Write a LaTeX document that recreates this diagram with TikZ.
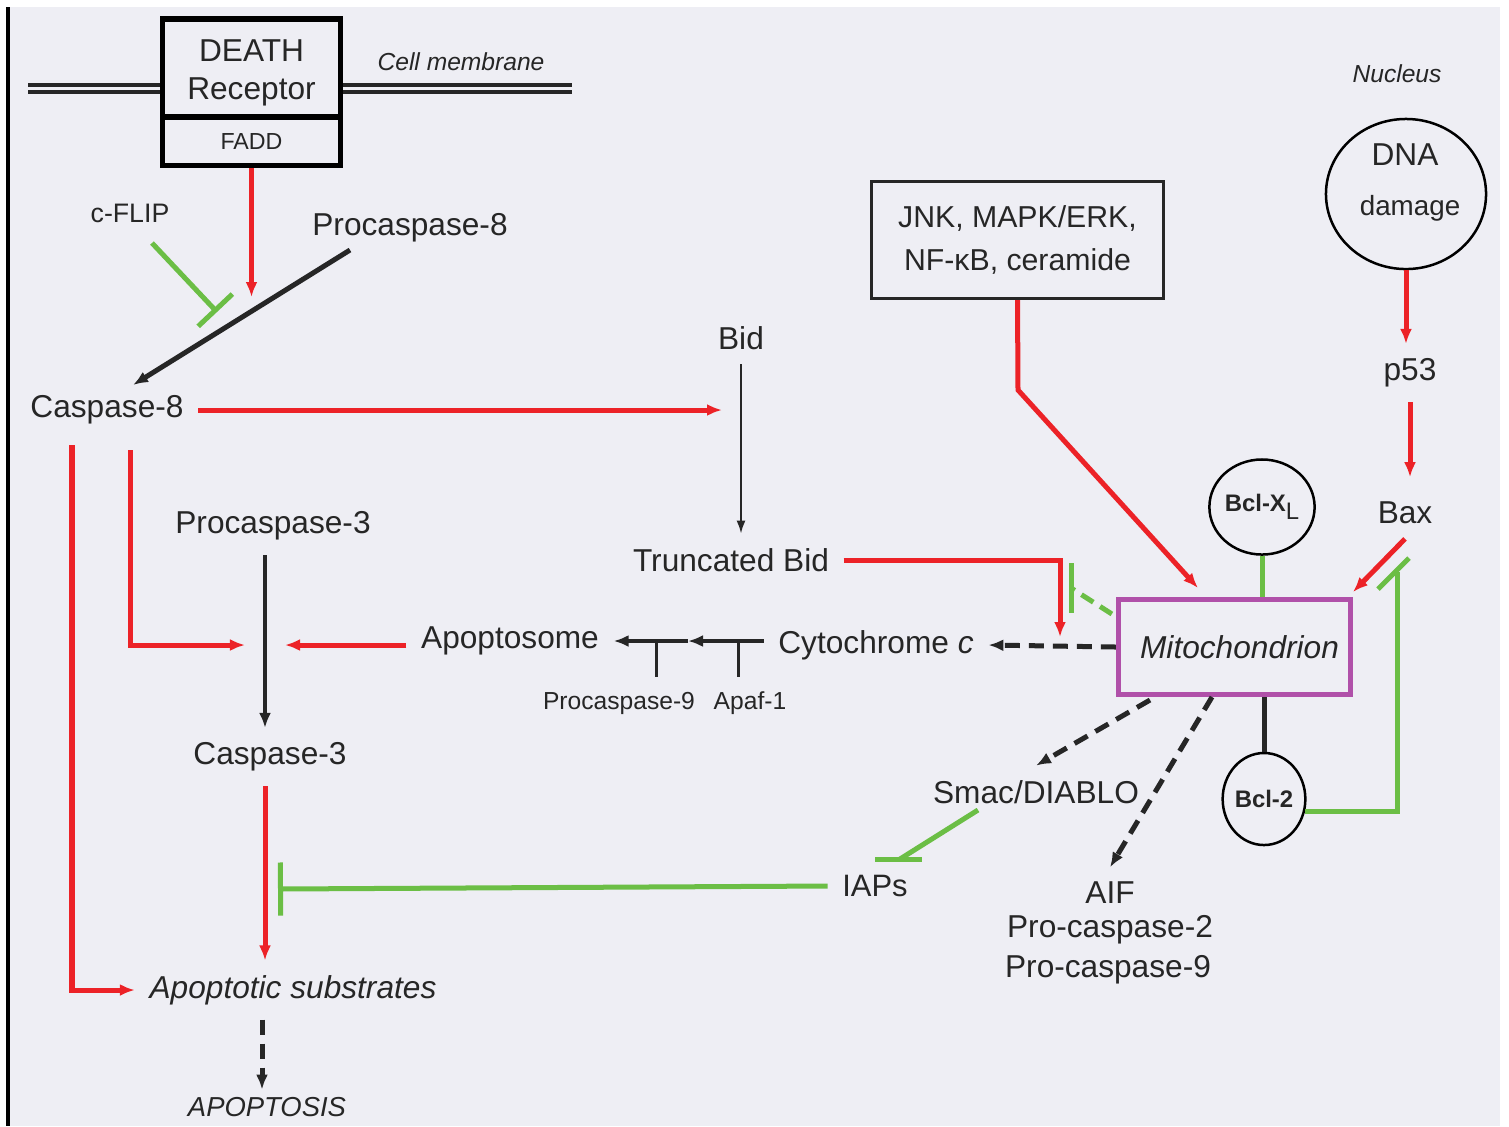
\documentclass[tikz,border=0pt]{standalone}
\usepackage{fontspec}
\setmainfont{Liberation Sans}
\usetikzlibrary{arrows.meta,shapes.geometric,calc}

\definecolor{actred}{HTML}{EC2227}
\definecolor{inhgreen}{HTML}{6BBE45}
\definecolor{mitopurple}{HTML}{B050A9}
\definecolor{panelbg}{HTML}{EEEEF4}
\definecolor{ink}{HTML}{262626}

\begin{document}
\begin{tikzpicture}[x=0.01cm,y=-0.01cm,
  lbl/.style={text=ink,inner sep=4pt,font=\fontsize{9}{11}\selectfont},
  lblsmall/.style={lbl,font=\fontsize{7}{8.5}\selectfont},
  lblnote/.style={lbl,font=\fontsize{7}{8.5}\selectfont\itshape},
  box/.style={draw=black,line width=0.55mm,minimum width=1.78cm,inner sep=0pt,text=ink},
  disc/.style={draw=black,ellipse,line width=0.25mm,inner sep=0pt,text=ink},
  membrane/.style={draw=ink,line width=0.38mm,double=panelbg,double distance=0.3mm},
  act/.style={draw=actred,line width=0.5mm,-{Latex[length=1.5mm,width=1.2mm]}},
  conv/.style={draw=ink,line width=0.45mm,-{Latex[length=1.5mm,width=1.2mm]}},
  thinconv/.style={draw=ink,line width=0.2mm,-{Latex[length=1.3mm,width=0.9mm]}},
  rel/.style={draw=ink,line width=0.5mm,dash pattern=on 1.5mm off 0.9mm,-{Latex[length=1.5mm,width=1.2mm]}},
  inh/.style={draw=inhgreen,line width=0.5mm}]
\useasboundingbox (0,0) rectangle (1509,1126);
\fill[panelbg] (8,7) rectangle (1500,1126);
\draw[black,line width=0.3mm] (8,7) -- (8,1126);

% receptor at the membrane
\node[box,minimum height=0.975cm] (receptor) at (251.5,68) {};
\node[lbl,align=center,inner sep=0pt] (receptorlbl) at (251.5,73) {DEATH\\Receptor};
\node[box,minimum height=0.485cm,font=\fontsize{6.6}{8}\selectfont] (fadd) at (251.5,141) {FADD};
\coordinate (memL) at (28,88.5);
\coordinate (memR) at (572,88.5);
\draw[membrane] (memL) -- (memL -| receptor.west);
\draw[membrane] (memR -| receptor.east) -- (memR);
\node[lblnote] (membranelbl) at (461,62) {Cell membrane};

% extrinsic branch
\node[lbl,font=\fontsize{7.6}{9}\selectfont] (cflip) at (130,213) {c-FLIP};
\node[lbl] (pro8) at (410,228) {Procaspase-8};
\node[lbl] (casp8) at (107,410) {Caspase-8};
\coordinate (pro8tail) at (350,250);
\coordinate (casp8head) at (133,385);
\coordinate (cut8) at (252,297);
\coordinate (flipfrom) at (152,243);
\coordinate (flipbar) at (217,312);
\draw[conv,line width=0.5mm] (pro8tail) -- (casp8head);
\draw[act] (fadd.south) -- (fadd.south |- cut8);
\draw[inh,-{Bar[width=4.7mm]}] (flipfrom) -- (flipbar);

% Bid
\node[lbl] (bid) at (741,338) {Bid};
\node[lbl] (tbid) at (731,560) {Truncated Bid};
\coordinate (bidjoin) at (722,410);
\coordinate (tbidhead) at (1060,637);
\draw[act] (casp8.east) -- (bidjoin);
\draw[thinconv] (bid.south) -- (bid.south |- tbid.north);
\draw[act] (tbid.east) -| (tbidhead);

% stress signals
\node[draw=ink,line width=0.3mm,minimum width=2.92cm,minimum height=1.17cm,align=center,text=ink,
  font=\fontsize{8.6}{12.2}\selectfont] (jnk) at (1017.5,240) {JNK, MAPK/ERK,\\NF-κB, ceramide};
\coordinate (jnkbend) at (1018,390);
\coordinate (jnkhead) at (1198,588);

% nucleus
\node[lblnote] (nucleus) at (1397,74) {Nucleus};
\node[disc,minimum width=1.6cm,minimum height=1.5cm] (dna) at (1406,194) {};
\node[lbl] (dnatxt) at (1405,155) {DNA};
\node[lbl,font=\fontsize{7.9}{9}\selectfont] (damage) at (1410,208) {damage};
\node[lbl] (p53) at (1410,373) {p53};
\node[lbl] (bax) at (1405,513) {Bax};
\draw[act] (dna.south) -- (dna.south |- p53.north);
\draw[act,shorten >=1mm] (p53.south) -- (p53.south |- bax.north);

% mitochondrion
\node[draw=mitopurple,line width=0.5mm,minimum width=2.22cm,minimum height=0.95cm,text=ink,
  font=\fontsize{9}{11}\selectfont\itshape] (mito) at (1234.5,647) {\hspace*{0.1cm}Mitochondrion};
\node[disc,minimum width=0.85cm,minimum height=0.95cm,font=\fontsize{6.8}{8}\selectfont\bfseries] (bclxl) at (1262,507)
  {Bcl-X\raisebox{-0.35em}{\mdseries L}};
\node[disc,minimum width=0.82cm,minimum height=0.92cm,font=\fontsize{6.8}{8}\selectfont\bfseries] (bcl2) at (1264,799) {Bcl-2};
\coordinate (baxhead) at (1353,592);
\coordinate (baxbar) at (1397,572);
\coordinate (bxlbar) at (1071,588);
\draw[act] (jnk.south) -- (jnkbend) -- (jnkhead);
\draw[act] (bax.south) -- (baxhead);
\draw[inh] (bclxl.south) -- (bclxl.south |- mito.north);
\draw[ink,line width=0.5mm] (bcl2.north |- mito.south) -- (bcl2.north);
\draw[inh] (bcl2.-17) -| (baxbar);
\draw[inh] ($(baxbar)+(-19,17)$) -- ($(baxbar)+(12,-14)$);
\draw[inh,dash pattern=on 1.4mm off 0.8mm] ($(mito.north west)+(-4,17)$) -- (bxlbar);
\draw[inh] ($(bxlbar)+(0,-25)$) -- ($(bxlbar)+(0,25)$);

% cytochrome c and apoptosome
\node[lbl] (cytc) at (876,645) {Cytochrome \textit{c}};
\node[lbl] (apopt) at (510,641) {Apoptosome};
\node[lblsmall] (pro9) at (619,703) {Procaspase-9};
\node[lblsmall] (apaf) at (750,703) {Apaf-1};
\coordinate (apafjoin) at (738,641);
\coordinate (pro9join) at (656,641);
\coordinate (midjoin) at (688,641);
\draw[rel] (mito.west) -- (cytc.east);
\draw[conv,line width=0.4mm] (cytc.west |- apafjoin) -- (midjoin);
\draw[conv,line width=0.4mm] (midjoin) -- (apopt.east);
\draw[ink,line width=0.3mm] (apafjoin) -- (apafjoin |- apaf.north);
\draw[ink,line width=0.3mm] (pro9join) -- (pro9join |- pro9.north);

% caspase-3
\node[lbl] (pro3) at (273,526) {Procaspase-3};
\node[lbl] (casp3) at (270,757) {Caspase-3};
\node[lbl,font=\fontsize{9}{11}\selectfont\itshape] (substr) at (293,990) {Apoptotic substrates};
\node[lbl,inner sep=2pt,font=\fontsize{7.8}{9}\selectfont\itshape] (apoptosis) at (267,1107) {APOPTOSIS};
\coordinate (c3x) at (265,0);
\coordinate (c3left) at (245,645);
\coordinate (c3right) at (285,645);
\coordinate (c8a) at (130,450);
\coordinate (c8b) at (72,445);
\coordinate (iapbar) at (278,889);
\draw[conv] (pro3.south -| c3x) -- (casp3.north -| c3x);
\draw[act] (apopt.west |- c3right) -- (c3right);
\draw[act] (c8a) |- (c3left);
\draw[act] (c8b) |- (substr.west);
\draw[act] (casp3.south -| c3x) -- (substr.north -| c3x);
\draw[rel] (substr.south -| 262,0) -- (apoptosis.north -| 262,0);

% mitochondrial release
\node[lbl] (smac) at (1036,792) {Smac/DIABLO};
\node[lbl,font=\fontsize{8.8}{10}\selectfont] (iaps) at (875,886) {IAPs};
\node[lbl] (aif) at (1110,893) {AIF};
\node[lbl] (proc2) at (1110,930) {Pro-caspase-2};
\node[lbl] (proc9) at (1108,970) {Pro-caspase-9};
\coordinate (smacfrom) at (1150,700);
\coordinate (aiffrom) at (1212,697);
\coordinate (smacgreen) at (978,810);
\coordinate (iapsbar) at (900,859);
\draw[rel] (smacfrom) -- (smac.north);
\draw[rel] (aiffrom) -- (aif.north);
\draw[inh] (smacgreen) -- (iapsbar);
\draw[inh] ($(iapsbar)+(-25,0)$) -- ($(iapsbar)+(22,0)$);
\draw[inh,-{Bar[width=5.3mm]}] (iaps.west) -- (iapbar);
\end{tikzpicture}
\end{document}
